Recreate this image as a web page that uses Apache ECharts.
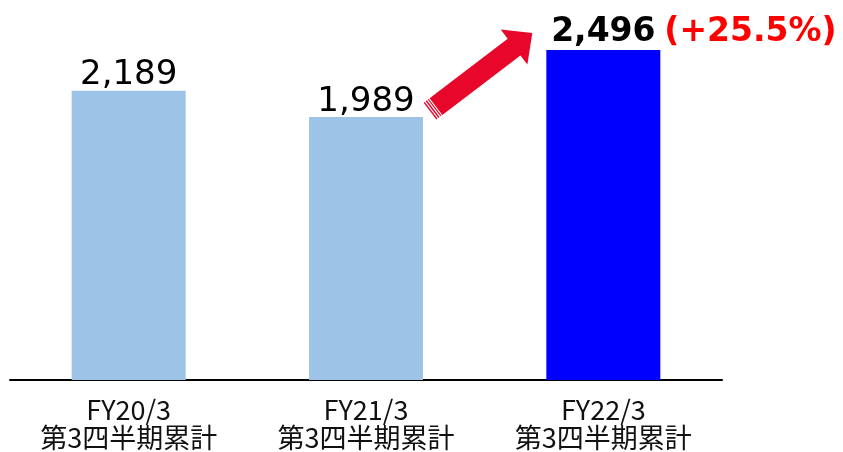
<!DOCTYPE html>
<html>
<head>
<meta charset="utf-8">
<script src="https://cdn.jsdelivr.net/npm/echarts@6/dist/echarts.min.js"></script>
<style>
  html, body { margin: 0; padding: 0; background: #fff; }
  #chart { width: 843px; height: 452px; }
</style>
</head>
<body>
<div id="chart"></div>
<script>
const periods = ["FY20/3", "FY21/3", "FY22/3"];
const periodNote = "第3四半期累計";
const values = [2189, 1989, 2496];
const valueLabels = ["2,189", "1,989", "2,496"];
const growthLabel = "(+25.5%)";

const chart = echarts.init(document.getElementById("chart"));

const option = {
  animation: false,
  grid: { left: 10, right: 121, top: 0, bottom: 72 },
  xAxis: {
    type: "category",
    data: periods,
    axisLine: { lineStyle: { color: "#000", width: 2 } },
    axisTick: { show: false },
    axisLabel: {
      margin: 16,
      color: "#111",
      fontFamily: "Noto Sans CJK JP",
      fontSize: 27,
      lineHeight: 28,
      formatter: (v) => v + "\n" + periodNote,
    },
  },
  yAxis: {
    type: "value",
    min: 0,
    max: 2875,
    show: false,
    splitLine: { show: false },
  },
  series: [
    {
      type: "bar",
      barWidth: 114,
      data: values.map((v, i) => ({
        value: v,
        itemStyle: { color: i === 2 ? "#0000ff" : "#9dc3e6" },
        label: i === 2 ? { fontWeight: "bold", fontSize: 33, distance: 1 } : {},
      })),
      label: {
        show: true,
        position: "top",
        distance: -2,
        color: "#000",
        fontFamily: "DejaVu Sans",
        fontSize: 34,
        formatter: (p) => valueLabels[p.dataIndex],
      },
    },
  ],
};
chart.setOption(option);

// arrow from bar 2 towards bar 3, plus growth text
const p2 = chart.convertToPixel({ seriesIndex: 0 }, [1, values[1]]);
const p3 = chart.convertToPixel({ seriesIndex: 0 }, [2, values[2]]);
const tail = [p2[0] + 64, p2[1] - 6];
const tip = [p3[0] - 71, p3[1] - 17];
const dx = tip[0] - tail[0], dy = tip[1] - tail[1];
const len = Math.sqrt(dx * dx + dy * dy);
const u = [dx / len, dy / len];
const n = [-u[1], u[0]];
const pt = (t, s) => [tail[0] + u[0] * t + n[0] * s, tail[1] + u[1] * t + n[1] * s];
const hw = 10.5, headLen = 23, headHw = 22;
const red = "#e8072a";
const gfx = [];
gfx.push({
  type: "polygon",
  shape: {
    points: [
      pt(7.5, -hw), pt(len - headLen, -hw), pt(len - headLen, -headHw), pt(len, 0),
      pt(len - headLen, headHw), pt(len - headLen, hw), pt(7.5, hw),
    ],
  },
  style: { fill: red },
});
[[0, 1.4], [2.6, 4], [5.2, 6.4]].forEach(([a, b]) => {
  gfx.push({
    type: "polygon",
    shape: { points: [pt(a, -hw), pt(b, -hw), pt(b, hw), pt(a, hw)] },
    style: { fill: red },
  });
});
gfx.push({
  type: "text",
  x: p3[0] + 61,
  y: p3[1] - 1 - 17,
  style: {
    text: growthLabel,
    fill: "#ff0000",
    font: "bold 33px 'DejaVu Sans'",
    align: "left",
    verticalAlign: "middle",
  },
});
chart.setOption({ graphic: gfx });
</script>
</body>
</html>
